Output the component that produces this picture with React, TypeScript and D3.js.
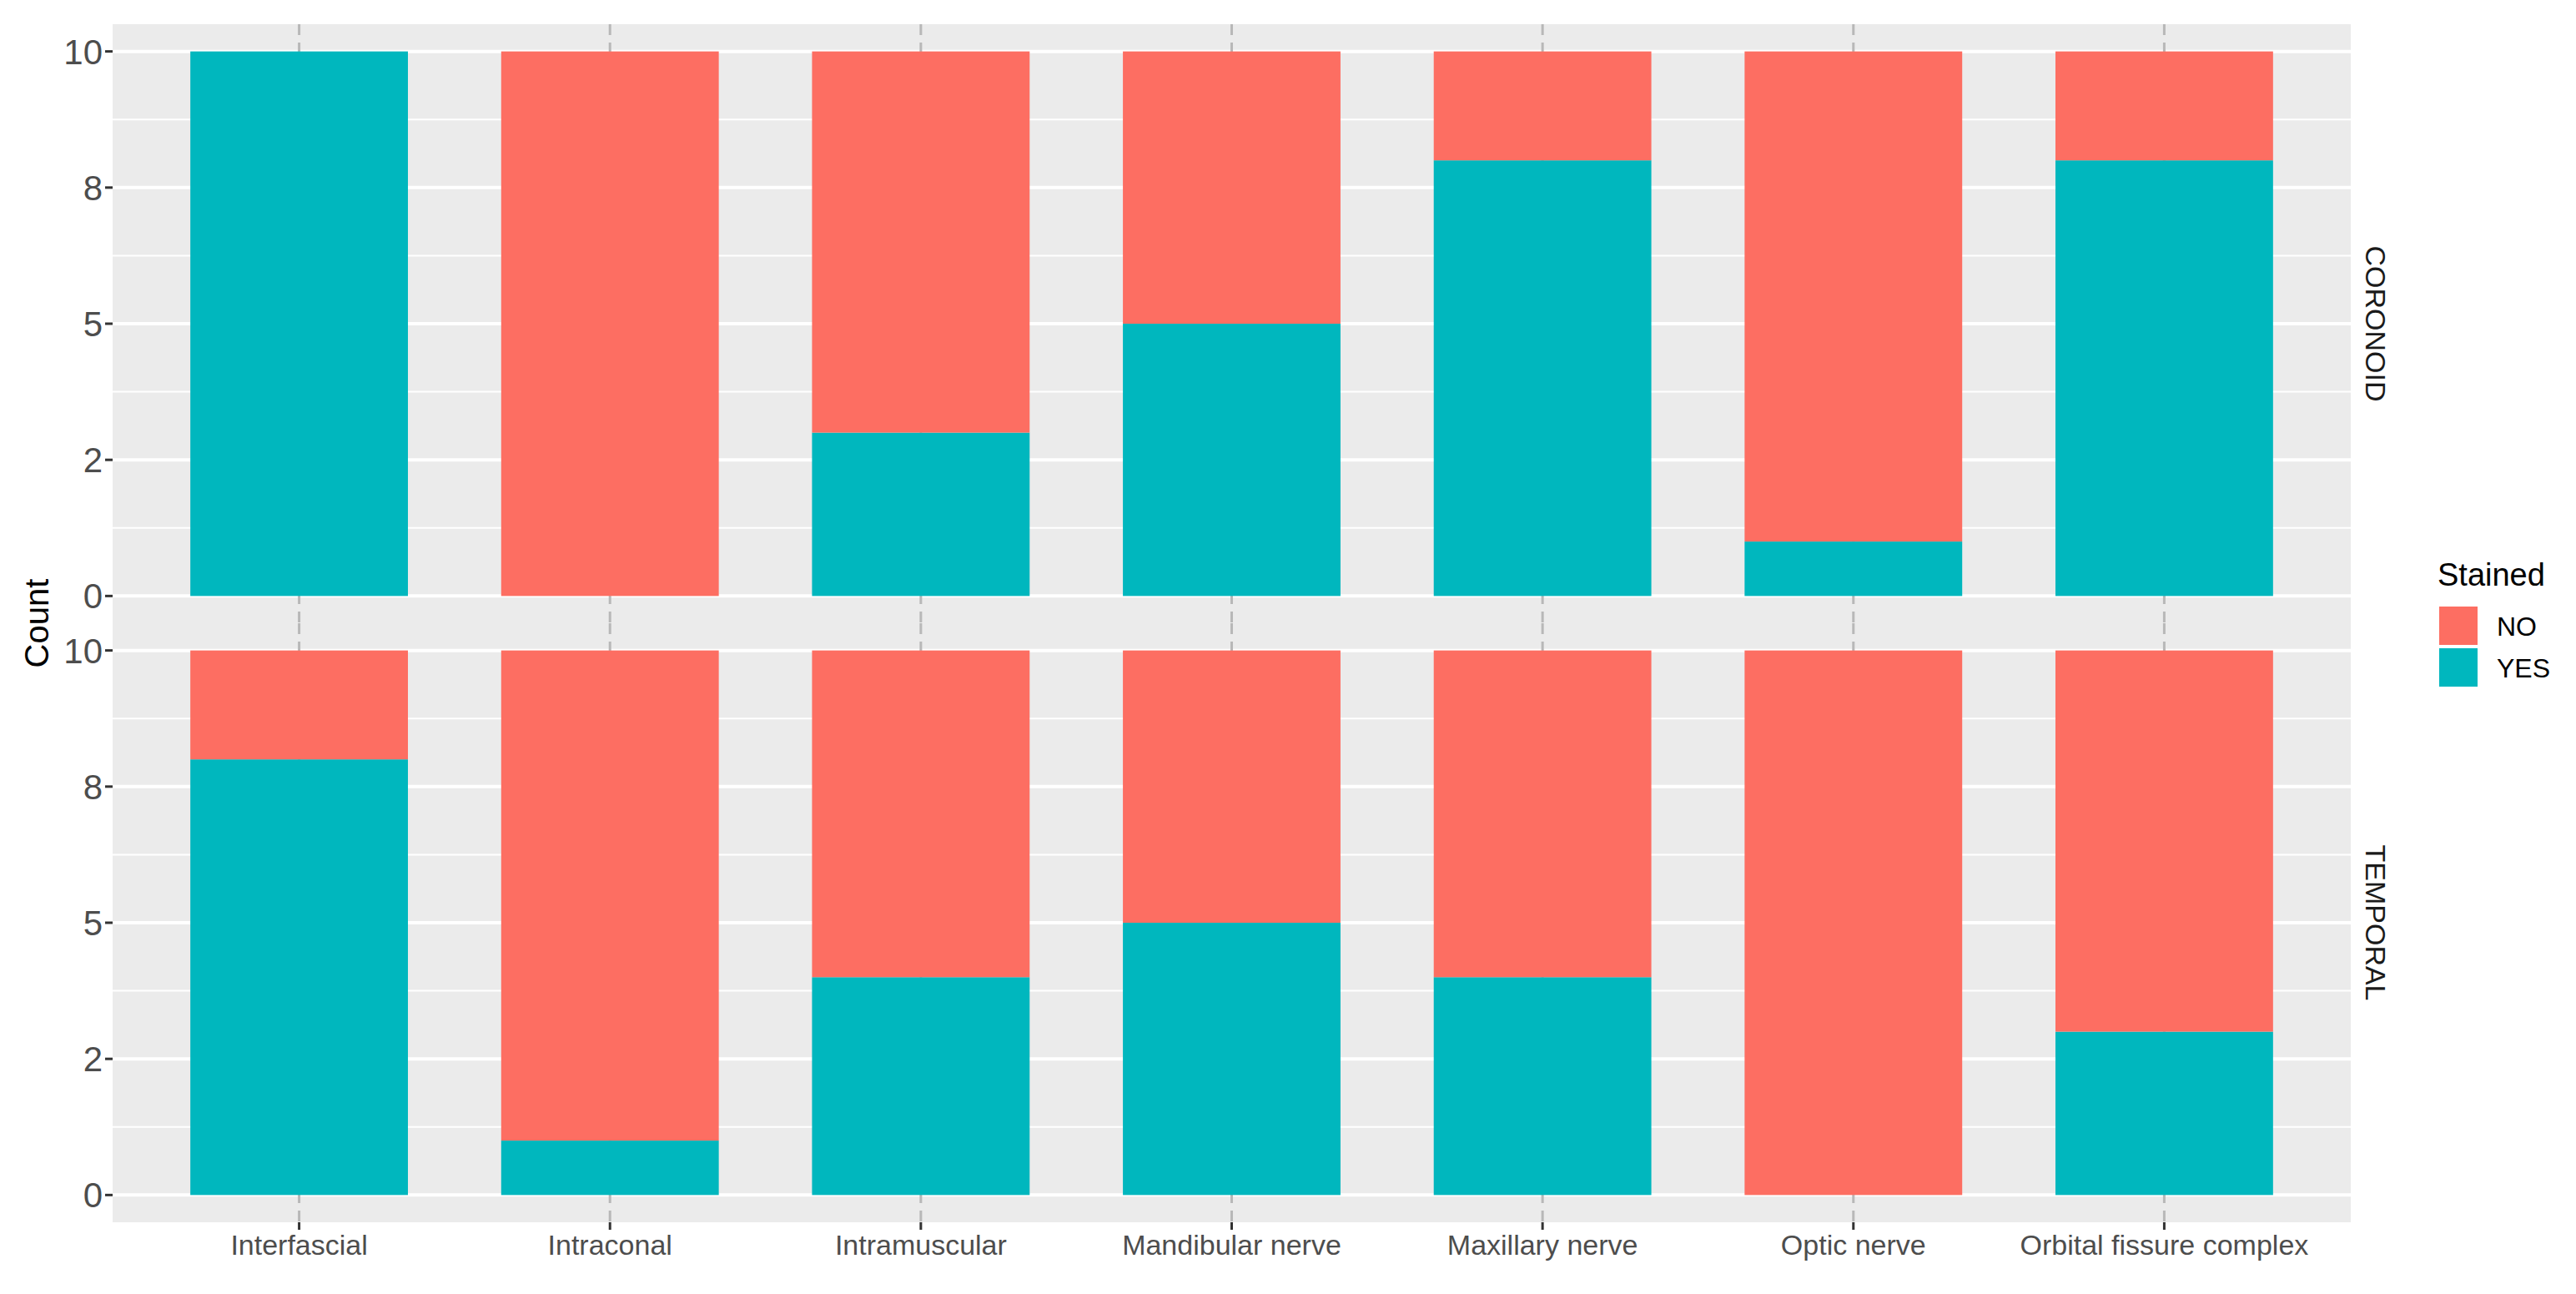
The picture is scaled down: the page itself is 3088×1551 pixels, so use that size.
import React from "react";
import * as d3 from "d3";

const categories = [
  "Interfascial",
  "Intraconal",
  "Intramuscular",
  "Mandibular nerve",
  "Maxillary nerve",
  "Optic nerve",
  "Orbital fissure complex",
];
const facets = ["CORONOID", "TEMPORAL"];
const coronoidYes = [10, 0, 3, 5, 8, 1, 8];
const coronoidNo = [0, 10, 7, 5, 2, 9, 2];
const temporalYes = [8, 1, 4, 5, 4, 0, 3];
const temporalNo = [2, 9, 6, 5, 6, 10, 7];
const yTickValues = [0, 2.5, 5, 7.5, 10];
const yTickLabels = ["0", "2", "5", "8", "10"];
const yMinorValues = [1.25, 3.75, 6.25, 8.75];
const legendLevels = ["NO", "YES"];
const legendTitle = "Stained";
const yTitle = "Count";

const W = 3088;
const H = 1551;
const COLORS: Record<string, string> = { NO: "#FD6E62", YES: "#00B7BE" };
const FONT = "'Liberation Sans', Arial, Helvetica, sans-serif";

export default function App() {
  const panelLeft = 135;
  const panelRight = 2818;
  const panelTops = [29, 747];
  const panelH = 718;
  const x = d3.scaleLinear().domain([-0.6, categories.length - 1 + 0.6]).range([panelLeft, panelRight]);
  const barHalf = 0.35;

  const panelData = [
    { name: facets[0], yes: coronoidYes, no: coronoidNo },
    { name: facets[1], yes: temporalYes, no: temporalNo },
  ];

  return (
    <svg
      width={W}
      height={H}
      style={{ position: "absolute", left: 0, top: 0, background: "#fff" }}
      fontFamily={FONT}
    >
      <rect x={0} y={0} width={W} height={H} fill="#fff" />
      {panelData.map((p, pi) => {
        const top = panelTops[pi];
        const y = d3.scaleLinear().domain([-0.5, 10.5]).range([top + panelH, top]);
        const stack = d3
          .stack<number>()
          .keys(["YES", "NO"])
          .value((i, key) => (key === "YES" ? p.yes[i] : p.no[i]))(
          categories.map((_, i) => i)
        );
        return (
          <g key={p.name}>
            <rect x={panelLeft} y={top} width={panelRight - panelLeft} height={panelH} fill="#EBEBEB" />
            {yMinorValues.map((v) => (
              <line key={"m" + v} x1={panelLeft} x2={panelRight} y1={y(v)} y2={y(v)} stroke="#fff" strokeWidth={2} />
            ))}
            {yTickValues.map((v) => (
              <line key={"M" + v} x1={panelLeft} x2={panelRight} y1={y(v)} y2={y(v)} stroke="#fff" strokeWidth={4} />
            ))}
            {categories.map((c, i) => (
              <line
                key={"v" + c}
                x1={x(i)}
                x2={x(i)}
                y1={top}
                y2={top + panelH}
                stroke="#B8B8B8"
                strokeWidth={3}
                strokeDasharray="13 9"
              />
            ))}
            {stack.map((layer) =>
              layer.map((d, i) =>
                d[1] - d[0] > 0 ? (
                  <rect
                    key={layer.key + i}
                    x={x(i - barHalf)}
                    width={x(i + barHalf) - x(i - barHalf)}
                    y={y(d[1])}
                    height={y(d[0]) - y(d[1])}
                    fill={COLORS[layer.key]}
                  />
                ) : null
              )
            )}
            {yTickValues.map((v, ti) => (
              <g key={"t" + v}>
                <line x1={panelLeft - 9} x2={panelLeft} y1={y(v)} y2={y(v)} stroke="#333" strokeWidth={3} />
                <text
                  x={panelLeft - 12}
                  y={y(v)}
                  dy="0.36em"
                  textAnchor="end"
                  fontSize={42}
                  fill="#4D4D4D"
                >
                  {yTickLabels[ti]}
                </text>
              </g>
            ))}
            <text
              transform={`translate(${2848},${top + panelH / 2}) rotate(90)`}
              textAnchor="middle"
              dy="0.36em"
              fontSize={34}
              fill="#1A1A1A"
            >
              {p.name}
            </text>
          </g>
        );
      })}
      {categories.map((c, i) => (
        <g key={"xl" + c}>
          <line
            x1={x(i)}
            x2={x(i)}
            y1={panelTops[1] + panelH}
            y2={panelTops[1] + panelH + 9}
            stroke="#333"
            strokeWidth={3}
          />
          <text x={x(i)} y={1504} textAnchor="middle" fontSize={34} fill="#4D4D4D">
            {c}
          </text>
        </g>
      ))}
      <text transform={`translate(58,${panelTops[1]}) rotate(-90)`} textAnchor="middle" fontSize={40} fill="#000">
        {yTitle}
      </text>
      <g>
        <text x={2922} y={702} fontSize={38} fill="#000">
          {legendTitle}
        </text>
        {legendLevels.map((lv, li) => (
          <g key={lv}>
            <rect x={2924} y={727 + li * 50} width={46} height={46} fill={COLORS[lv]} />
            <text x={2993} y={750 + li * 50} dy="0.36em" fontSize={32} fill="#000">
              {lv}
            </text>
          </g>
        ))}
      </g>
    </svg>
  );
}
